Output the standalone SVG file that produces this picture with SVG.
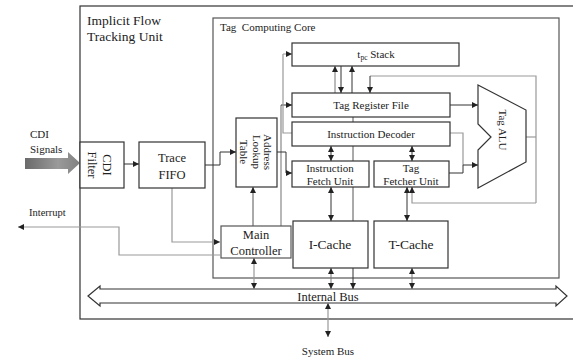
<svg xmlns="http://www.w3.org/2000/svg" width="573" height="360" viewBox="0 0 573 360">
<defs>
<style>
text{font-family:"Liberation Serif","Times New Roman",serif;fill:#222}
.box{fill:#fff;stroke:#333;stroke-width:1.2}
.frame{fill:none;stroke:#333;stroke-width:1.2}
.d{fill:none;stroke:#333;stroke-width:1}
.g{fill:none;stroke:#999;stroke-width:1.2}
.t11{font-size:11px}
.t12{font-size:12.5px}
.t13{font-size:13.5px}
.m{text-anchor:middle}
</style>
<marker id="ah" viewBox="0 0 6 6" refX="6" refY="3" markerWidth="6" markerHeight="6" markerUnits="userSpaceOnUse" orient="auto-start-reverse"><path d="M0,0 L6,3 L0,6 Z" fill="#222"/></marker>
<linearGradient id="cdig" x1="0" y1="0" x2="1" y2="0">
<stop offset="0" stop-color="#6a6a6a"/>
<stop offset="0.6" stop-color="#9a9a9a"/>
<stop offset="1" stop-color="#808080"/>
</linearGradient>
</defs>

<g id="ift-unit">
<rect class="frame" x="80" y="6" width="510" height="313"/>
<text x="87" y="25" style="font-size:13.5px">Implicit Flow</text>
<text x="87" y="41" style="font-size:13.5px">Tracking Unit</text>
</g>

<g id="tag-core">
<rect class="frame" x="213" y="18" width="346" height="260" style="stroke:#555"/>
<text x="220" y="31" style="font-size:11px">Tag&#160; Computing Core</text>
</g>

<g id="internal-bus">
<path d="M88,296 L100,286 L100,289 L556,289 L556,286 L567,296 L556,306 L556,303 L100,303 L100,306 Z" fill="#fff" stroke="#333" stroke-width="1.2"/>
<text x="328" y="301" class="m t12">Internal Bus</text>
</g>

<g id="connectors">
<line class="d" x1="124" y1="164" x2="139" y2="164" marker-end="url(#ah)"/>
<polyline class="d" points="205,165 220,165 220,152 236,152" marker-end="url(#ah)"/>
<polyline class="g" points="172,188 172,242 220,242" marker-end="url(#ah)"/>
<polyline class="g" points="220,255 119,255 119,227 18,227" marker-end="url(#ah)"/>
<line class="d" x1="253" y1="226" x2="253" y2="187" marker-end="url(#ah)" style="stroke:#555"/>
<polyline class="g" points="281,226 281,105" style="stroke:#888"/>
<line class="d" x1="281" y1="105" x2="292" y2="105" marker-end="url(#ah)"/>
<polyline class="g" points="292,133 283,133 283,54"/>
<line class="d" x1="283" y1="54" x2="292" y2="54" marker-end="url(#ah)" style="stroke:#999"/>
<polyline class="d" points="277,152 286,152 286,173 292,173" marker-end="url(#ah)"/>
<line class="d" x1="335" y1="93" x2="335" y2="66" marker-end="url(#ah)" style="stroke:#777"/>
<line class="d" x1="341" y1="66" x2="341" y2="93" marker-end="url(#ah)"/>
<line class="d" x1="352" y1="93" x2="352" y2="66" marker-end="url(#ah)"/>
<line class="d" x1="353" y1="117" x2="353" y2="122" style="stroke:#555"/>
<line class="d" x1="353" y1="146" x2="353" y2="161" style="stroke:#555"/>
<line class="d" x1="353" y1="187" x2="353" y2="221" style="stroke:#555"/>
<line class="d" x1="353" y1="268" x2="353" y2="289" marker-end="url(#ah)"/>
<line class="d" x1="331" y1="146" x2="331" y2="161" marker-start="url(#ah)" marker-end="url(#ah)"/>
<line class="d" x1="412" y1="146" x2="412" y2="161" marker-start="url(#ah)" marker-end="url(#ah)"/>
<line class="d" x1="331" y1="187" x2="331" y2="221" marker-start="url(#ah)" marker-end="url(#ah)"/>
<line class="d" x1="407" y1="187" x2="407" y2="221" marker-start="url(#ah)" marker-end="url(#ah)"/>
<line class="d" x1="331" y1="268" x2="331" y2="289" marker-start="url(#ah)" marker-end="url(#ah)" style="stroke:#777"/>
<line class="d" x1="412" y1="268" x2="412" y2="289" marker-start="url(#ah)" marker-end="url(#ah)" style="stroke:#777"/>
<line class="g" x1="254" y1="258" x2="254" y2="289" marker-start="url(#ah)" marker-end="url(#ah)"/>
<line class="g" x1="328" y1="303" x2="328" y2="337" marker-start="url(#ah)" marker-end="url(#ah)"/>
<line class="d" x1="450" y1="105" x2="478" y2="105" marker-end="url(#ah)"/>
<polyline class="g" points="450,133 463,133 463,165"/>
<polyline class="d" points="449,173 463,173 463,165 478,165" marker-end="url(#ah)"/>
<polyline class="g" points="526,137 536,137"/>
<polyline class="g" points="536,203 536,76 370,76"/>
<line class="d" x1="370" y1="76" x2="370" y2="93" marker-end="url(#ah)"/>
<polyline class="g" points="536,203 412,203 412,190"/>
<line class="d" x1="412" y1="192" x2="412" y2="187" marker-end="url(#ah)"/>
</g>

<g id="cdi-signals">
<polygon points="25,158 68,158 68,152 80,163 68,174 68,169 25,169" fill="url(#cdig)"/>
<text x="30" y="138" class="t11">CDI</text>
<text x="30" y="153" class="t11">Signals</text>
</g>

<g id="interrupt-label">
<text x="29" y="216" style="font-size:10.5px">Interrupt</text>
</g>

<g id="system-bus-label">
<text x="328" y="355" class="m" style="font-size:11px">System Bus</text>
</g>

<g id="cdi-filter">
<rect class="box" x="80" y="142" width="44" height="46"/>
<text transform="translate(103,165) rotate(90)" class="m t12">CDI</text>
<text transform="translate(88,165) rotate(90)" class="m t12">Filter</text>
</g>

<g id="trace-fifo">
<rect class="box" x="139" y="142" width="66" height="46"/>
<text x="172" y="162" class="m t12">Trace</text>
<text x="172" y="179" class="m t12">FIFO</text>
</g>

<g id="address-lookup-table">
<rect class="box" x="236" y="118" width="41" height="69"/>
<text transform="translate(264,152) rotate(90)" class="m t11">Address</text>
<text transform="translate(253,152) rotate(90)" class="m t11">Lookup</text>
<text transform="translate(240,152) rotate(90)" class="m t11">Table</text>
</g>

<g id="main-controller">
<rect class="box" x="221" y="226" width="70" height="32" style="stroke:#555"/>
<text x="256" y="239" class="m t12">Main</text>
<text x="256" y="255" class="m t12">Controller</text>
</g>

<g id="tpc-stack">
<rect class="box" x="292" y="43" width="167" height="23"/>
<text x="376" y="58" class="m t11">t<tspan style="font-size:7.5px" dy="2">pc</tspan><tspan dy="-2"> Stack</tspan></text>
</g>

<g id="tag-register-file">
<rect class="box" x="292" y="93" width="158" height="24"/>
<text x="371" y="109" class="m t11">Tag Register File</text>
</g>

<g id="instruction-decoder">
<rect class="box" x="292" y="122" width="158" height="24"/>
<text x="371" y="138" class="m t11">Instruction Decoder</text>
</g>

<g id="instruction-fetch-unit">
<rect class="box" x="292" y="161" width="77" height="26"/>
<text x="330" y="172" class="m t11">Instruction</text>
<text x="330" y="185" class="m t11">Fetch Unit</text>
</g>

<g id="tag-fetcher-unit">
<rect class="box" x="374" y="161" width="75" height="26"/>
<text x="411" y="172" class="m t11">Tag</text>
<text x="411" y="185" class="m t11">Fetcher Unit</text>
</g>

<g id="tag-alu">
<polygon points="478,85 526,110 526,162 478,188 478,150 491,137 478,124" fill="#fff" stroke="#333" stroke-width="1.2"/>
<text transform="translate(499,130) rotate(90)" class="m t11">Tag ALU</text>
</g>

<g id="i-cache">
<rect class="box" x="293" y="221" width="75" height="47"/>
<text x="330" y="249" class="m t13">I-Cache</text>
</g>

<g id="t-cache">
<rect class="box" x="374" y="221" width="74" height="47"/>
<text x="411" y="249" class="m t13">T-Cache</text>
</g>
</svg>
